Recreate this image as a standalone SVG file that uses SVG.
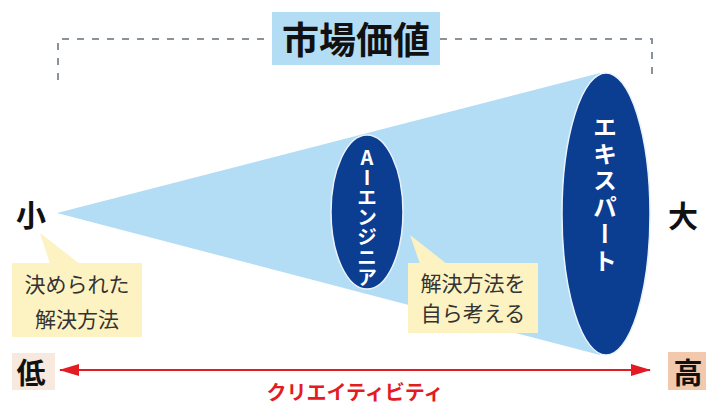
<svg xmlns="http://www.w3.org/2000/svg" width="706" height="407" viewBox="0 0 706 407">
<style>
text{font-family:"Noto Sans CJK JP","Noto Sans",sans-serif;}
.blk{fill:#111;font-weight:bold;}
.note{fill:#333;font-size:21px;text-anchor:middle;}
.vert{fill:#fff;font-weight:bold;writing-mode:vertical-rl;text-orientation:upright;text-anchor:middle;}
.ell{fill:#0b3d91;stroke:#e8f2fb;stroke-width:1.5;}
.callout{fill:#fdf3c2;}
.dash{fill:none;stroke:#8a929c;stroke-width:2;stroke-dasharray:7 8;}
</style>
<defs>
<marker id="ah" viewBox="0 0 20 12" refX="19" refY="6" markerWidth="20" markerHeight="12" markerUnits="userSpaceOnUse" orient="auto-start-reverse">
<path d="M0,0 L20,6 L0,12 Z" fill="#e31b23"/>
</marker>
</defs>
<rect width="706" height="407" fill="#fff"/>
<g id="connectors">
<path class="dash" d="M58,80 V39 H272 M440,39 H652 V80"/>
<line x1="60" y1="370" x2="650" y2="370" stroke="#e31b23" stroke-width="2" marker-start="url(#ah)" marker-end="url(#ah)"/>
</g>
<g id="cone">
<polygon points="57,213 600,73 600,355" fill="#b3dcf5"/>
</g>
<g id="title">
<rect x="272" y="12" width="168" height="53" fill="#b3dcf5"/>
<text x="356" y="54" class="blk" font-size="37" text-anchor="middle">市場価値</text>
</g>
<g id="ai-engineer">
<ellipse class="ell" cx="367" cy="212" rx="36" ry="77"/>
<text class="vert" x="367" y="217" font-size="20">AIエンジニア</text>
</g>
<g id="expert">
<ellipse class="ell" cx="606" cy="214" rx="44" ry="141"/>
<text class="vert" x="605" y="195" font-size="24" letter-spacing="2.7">エキスパート</text>
</g>
<g id="label-small">
<text x="31" y="226" class="blk" font-size="30" text-anchor="middle">小</text>
</g>
<g id="label-large">
<text x="683" y="227" class="blk" font-size="30" text-anchor="middle">大</text>
</g>
<g id="callout-fixed">
<polygon class="callout" points="40,233 50,264 80,264"/>
<rect class="callout" x="12" y="263" width="130" height="74"/>
<text class="note" x="77" y="292">決められた</text>
<text class="note" x="77" y="327">解決方法</text>
</g>
<g id="callout-self">
<polygon class="callout" points="410,235 420,264 447,264"/>
<rect class="callout" x="408" y="263" width="130" height="70"/>
<text class="note" x="473" y="291">解決方法を</text>
<text class="note" x="473" y="321">自ら考える</text>
</g>
<g id="label-low">
<rect x="12" y="353" width="43" height="37" fill="#f8e9df"/>
<text x="31" y="384" class="blk" font-size="29" text-anchor="middle">低</text>
</g>
<g id="label-high">
<rect x="668" y="352" width="38" height="38" fill="#f2c9ad"/>
<text x="688" y="384" class="blk" font-size="29" text-anchor="middle">高</text>
</g>
<g id="axis-label">
<text x="355" y="400" fill="#e31b23" font-size="20" font-weight="bold" text-anchor="middle">クリエイティビティ</text>
</g>
</svg>
